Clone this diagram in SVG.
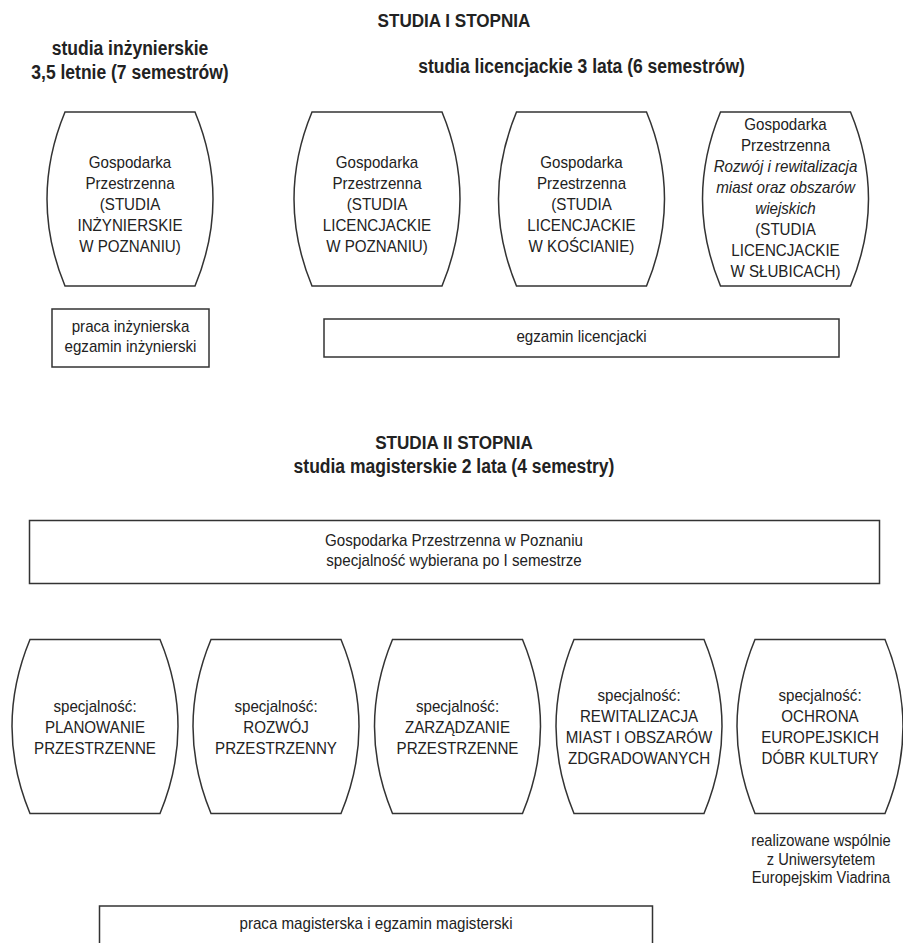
<svg xmlns="http://www.w3.org/2000/svg" xmlns:xlink="http://www.w3.org/1999/xlink" width="903" height="943" viewBox="0 0 903 943">
<defs>
<style>
.shape{fill:#fff;stroke:#333;stroke-width:1.5}
.t{font-family:"Liberation Sans",Arial,sans-serif;font-size:17px;fill:#222;text-anchor:middle}
.i{font-style:italic}
.h{font-family:"Liberation Sans",Arial,sans-serif;font-weight:bold;font-size:19px;fill:#222;text-anchor:middle}
.s{font-family:"Liberation Sans",Arial,sans-serif;font-weight:bold;font-size:20px;fill:#222;text-anchor:middle}
.n{font-family:"Liberation Sans",Arial,sans-serif;font-size:16.5px;fill:#222;text-anchor:middle}
</style>
<path id="barrel" d="M18,0 H148 Q184,87 148,174 H18 Q-18,87 18,0 Z"/>
</defs>
<rect width="903" height="943" fill="#fff"/>

<g id="headings">
<g transform="translate(454 0) scale(0.9 1)"><text class="h" x="0" y="27">STUDIA I STOPNIA</text></g>
<g transform="translate(130 0) scale(0.875 1)"><text class="s" x="0" y="55">studia inżynierskie</text><text class="s" x="0" y="79.5">3,5 letnie (7 semestrów)</text></g>
<g transform="translate(581.5 0) scale(0.875 1)"><text class="s" x="0" y="73">studia licencjackie 3 lata (6 semestrów)</text></g>
<g transform="translate(454 0) scale(0.9 1)"><text class="h" x="0" y="449">STUDIA II STOPNIA</text></g>
<g transform="translate(454 0) scale(0.875 1)"><text class="s" x="0" y="473">studia magisterskie 2 lata (4 semestry)</text></g>
</g>

<g id="connectors"></g>

<g id="gp-inz">
<use href="#barrel" class="shape" x="47" y="112"/>
<g transform="translate(130 0) scale(0.89 1)">
<text class="t" x="0" y="168">Gospodarka</text>
<text class="t" x="0" y="189">Przestrzenna</text>
<text class="t" x="0" y="210">(STUDIA</text>
<text class="t" x="0" y="231">INŻYNIERSKIE</text>
<text class="t" x="0" y="252">W POZNANIU)</text>
</g>
</g>

<g id="gp-lic-poznan">
<use href="#barrel" class="shape" x="294" y="112"/>
<g transform="translate(377 0) scale(0.89 1)">
<text class="t" x="0" y="168">Gospodarka</text>
<text class="t" x="0" y="189">Przestrzenna</text>
<text class="t" x="0" y="210">(STUDIA</text>
<text class="t" x="0" y="231">LICENCJACKIE</text>
<text class="t" x="0" y="252">W POZNANIU)</text>
</g>
</g>

<g id="gp-lic-koscian">
<use href="#barrel" class="shape" x="498.5" y="112"/>
<g transform="translate(581.5 0) scale(0.89 1)">
<text class="t" x="0" y="168">Gospodarka</text>
<text class="t" x="0" y="189">Przestrzenna</text>
<text class="t" x="0" y="210">(STUDIA</text>
<text class="t" x="0" y="231">LICENCJACKIE</text>
<text class="t" x="0" y="252">W KOŚCIANIE)</text>
</g>
</g>

<g id="gp-lic-slubice">
<use href="#barrel" class="shape" x="702.5" y="112"/>
<g transform="translate(785.5 0) scale(0.89 1)">
<text class="t" x="0" y="130">Gospodarka</text>
<text class="t" x="0" y="151">Przestrzenna</text>
<text class="t i" x="0" y="172">Rozwój i rewitalizacja</text>
<text class="t i" x="0" y="193">miast oraz obszarów</text>
<text class="t i" x="0" y="214">wiejskich</text>
<text class="t" x="0" y="235">(STUDIA</text>
<text class="t" x="0" y="256">LICENCJACKIE</text>
<text class="t" x="0" y="277">W SŁUBICACH)</text>
</g>
</g>

<g id="egz-inz">
<rect class="shape" x="52" y="309" width="157" height="58"/>
<g transform="translate(130.5 0) scale(0.89 1)">
<text class="t" x="0" y="332">praca inżynierska</text>
<text class="t" x="0" y="352.5">egzamin inżynierski</text>
</g>
</g>

<g id="egz-lic">
<rect class="shape" x="324" y="319" width="515" height="38"/>
<g transform="translate(581.5 0) scale(0.89 1)">
<text class="t" x="0" y="342">egzamin licencjacki</text>
</g>
</g>

<g id="gp-mgr">
<rect class="shape" x="29.5" y="520.5" width="850" height="63"/>
<g transform="translate(454 0) scale(0.89 1)">
<text class="t" x="0" y="546.5">Gospodarka Przestrzenna w Poznaniu</text>
<text class="t" x="0" y="566.5">specjalność wybierana po I semestrze</text>
</g>
</g>

<g id="spec-planowanie">
<use href="#barrel" class="shape" x="12" y="639.5"/>
<g transform="translate(95 0) scale(0.89 1)">
<text class="t" x="0" y="712">specjalność:</text>
<text class="t" x="0" y="733">PLANOWANIE</text>
<text class="t" x="0" y="754">PRZESTRZENNE</text>
</g>
</g>

<g id="spec-rozwoj">
<use href="#barrel" class="shape" x="193" y="639.5"/>
<g transform="translate(276 0) scale(0.89 1)">
<text class="t" x="0" y="712">specjalność:</text>
<text class="t" x="0" y="733">ROZWÓJ</text>
<text class="t" x="0" y="754">PRZESTRZENNY</text>
</g>
</g>

<g id="spec-zarzadzanie">
<use href="#barrel" class="shape" x="374.5" y="639.5"/>
<g transform="translate(457.5 0) scale(0.89 1)">
<text class="t" x="0" y="712">specjalność:</text>
<text class="t" x="0" y="733">ZARZĄDZANIE</text>
<text class="t" x="0" y="754">PRZESTRZENNE</text>
</g>
</g>

<g id="spec-rewitalizacja">
<use href="#barrel" class="shape" x="556" y="639.5"/>
<g transform="translate(639 0) scale(0.89 1)">
<text class="t" x="0" y="701">specjalność:</text>
<text class="t" x="0" y="722">REWITALIZACJA</text>
<text class="t" x="0" y="743">MIAST I OBSZARÓW</text>
<text class="t" x="0" y="764">ZDGRADOWANYCH</text>
</g>
</g>

<g id="spec-ochrona">
<use href="#barrel" class="shape" x="737" y="639.5"/>
<g transform="translate(820 0) scale(0.89 1)">
<text class="t" x="0" y="701">specjalność:</text>
<text class="t" x="0" y="722">OCHRONA</text>
<text class="t" x="0" y="743">EUROPEJSKICH</text>
<text class="t" x="0" y="764">DÓBR KULTURY</text>
</g>
</g>

<g id="note-viadrina">
<g transform="translate(821 0) scale(0.89 1)">
<text class="n" x="0" y="846">realizowane wspólnie</text>
<text class="n" x="0" y="865">z Uniwersytetem</text>
<text class="n" x="0" y="883.5">Europejskim Viadrina</text>
</g>
</g>

<g id="egz-mgr">
<rect class="shape" x="99.5" y="906" width="553" height="60"/>
<g transform="translate(376 0) scale(0.89 1)">
<text class="t" x="0" y="929">praca magisterska i egzamin magisterski</text>
</g>
</g>
</svg>
